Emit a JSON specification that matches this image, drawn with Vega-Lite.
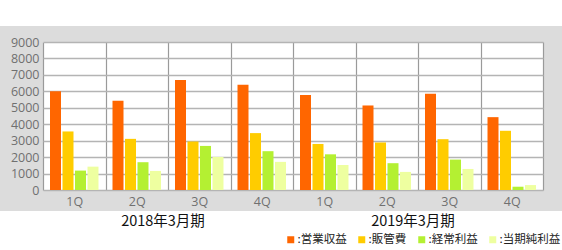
{
  "$schema": "https://vega.github.io/schema/vega-lite/v6.json",
  "background": "#dcdcdc",
  "padding": 0,
  "config": {"view": {"stroke": null}, "font": "Open Sans"},
  "datasets": {
    "bars": [
      {"k": "2018-1Q", "s": "営業収益", "v": 6000},
      {"k": "2018-1Q", "s": "販管費", "v": 3560},
      {"k": "2018-1Q", "s": "経常利益", "v": 1180},
      {"k": "2018-1Q", "s": "当期純利益", "v": 1420},
      {"k": "2018-2Q", "s": "営業収益", "v": 5430},
      {"k": "2018-2Q", "s": "販管費", "v": 3110},
      {"k": "2018-2Q", "s": "経常利益", "v": 1690},
      {"k": "2018-2Q", "s": "当期純利益", "v": 1160},
      {"k": "2018-3Q", "s": "営業収益", "v": 6690},
      {"k": "2018-3Q", "s": "販管費", "v": 2950},
      {"k": "2018-3Q", "s": "経常利益", "v": 2680},
      {"k": "2018-3Q", "s": "当期純利益", "v": 2010},
      {"k": "2018-4Q", "s": "営業収益", "v": 6400},
      {"k": "2018-4Q", "s": "販管費", "v": 3460},
      {"k": "2018-4Q", "s": "経常利益", "v": 2360},
      {"k": "2018-4Q", "s": "当期純利益", "v": 1710},
      {"k": "2019-1Q", "s": "営業収益", "v": 5770},
      {"k": "2019-1Q", "s": "販管費", "v": 2800},
      {"k": "2019-1Q", "s": "経常利益", "v": 2170},
      {"k": "2019-1Q", "s": "当期純利益", "v": 1520},
      {"k": "2019-2Q", "s": "営業収益", "v": 5140},
      {"k": "2019-2Q", "s": "販管費", "v": 2890},
      {"k": "2019-2Q", "s": "経常利益", "v": 1630},
      {"k": "2019-2Q", "s": "当期純利益", "v": 1100},
      {"k": "2019-3Q", "s": "営業収益", "v": 5850},
      {"k": "2019-3Q", "s": "販管費", "v": 3090},
      {"k": "2019-3Q", "s": "経常利益", "v": 1850},
      {"k": "2019-3Q", "s": "当期純利益", "v": 1280},
      {"k": "2019-4Q", "s": "営業収益", "v": 4430},
      {"k": "2019-4Q", "s": "販管費", "v": 3600},
      {"k": "2019-4Q", "s": "経常利益", "v": 200},
      {"k": "2019-4Q", "s": "当期純利益", "v": 300}
    ],
    "years": [{"p": "2018年3月期"}, {"p": "2019年3月期"}]
  },
  "spacing": 0,
  "vconcat": [
    {
      "spacing": 16,
      "bounds": "flush",
      "vconcat": [
        {
          "width": 562,
          "height": 26,
          "data": {"values": [{"t": ""}]},
          "mark": {"type": "text"},
          "encoding": {"text": {"field": "t"}},
          "view": {"fill": "white", "stroke": null}
        },
        {
          "spacing": 0,
          "bounds": "flush",
          "hconcat": [
            {
              "width": 43,
              "height": 148,
              "data": {"values": [{"t": ""}]},
              "mark": {"type": "text"},
              "encoding": {"text": {"field": "t"}},
              "view": {"fill": null, "stroke": null}
            },
            {
              "width": 500,
              "height": 148,
              "data": {"name": "bars"},
              "mark": {"type": "bar"},
              "view": {"fill": "white", "stroke": null},
              "encoding": {
                "x": {
                  "field": "k",
                  "type": "nominal",
                  "scale": {"paddingInner": 0, "paddingOuter": 0},
                  "axis": {
                    "title": null,
                    "labelExpr": "slice(datum.label, -2)",
                    "labelAngle": 0,
                    "ticks": false,
                    "domain": false,
                    "grid": true,
                    "tickBand": "extent",
                    "gridColor": "#9a9a9a",
                    "gridWidth": 1.2,
                    "labelPadding": 5,
                    "labelFontSize": 12.5,
                    "labelColor": "#707070",
                    "minExtent": 21,
                    "maxExtent": 21
                  }
                },
                "y": {
                  "field": "v",
                  "type": "quantitative",
                  "scale": {"domain": [0, 9000], "nice": false},
                  "axis": {
                    "title": null,
                    "format": "d",
                    "values": [0, 1000, 2000, 3000, 4000, 5000, 6000, 7000, 8000, 9000],
                    "ticks": false,
                    "domain": false,
                    "gridColor": "#b4b4b4",
                    "gridWidth": 1.5,
                    "labelPadding": 4,
                    "labelFontSize": 12.5,
                    "labelColor": "#707070"
                  }
                },
                "xOffset": {
                  "field": "s",
                  "type": "nominal",
                  "sort": ["営業収益", "販管費", "経常利益", "当期純利益"],
                  "scale": {"paddingInner": 0.12, "paddingOuter": 0.56}
                },
                "color": {
                  "field": "s",
                  "type": "nominal",
                  "scale": {
                    "domain": ["営業収益", "販管費", "経常利益", "当期純利益"],
                    "range": ["#ff6600", "#ffcc00", "#b4f032", "#eeffa0"]
                  },
                  "legend": {
                    "title": null,
                    "orient": "none",
                    "legendX": 285,
                    "legendY": 234,
                    "direction": "horizontal",
                    "gridAlign": "none",
                    "symbolType": "square",
                    "symbolSize": 49,
                    "symbolStrokeWidth": 0,
                    "labelOffset": 1,
                    "columnPadding": 9,
                    "padding": 0,
                    "labelFont": "Noto Sans CJK JP",
                    "labelFontSize": 11.5,
                    "labelColor": "#222222",
                    "labelExpr": "':' + datum.label",
                    "zindex": 1
                  }
                }
              }
            }
          ]
        }
      ]
    },
    {
      "spacing": 0,
      "bounds": "flush",
      "vconcat": [
        {
          "width": 562,
          "height": 22,
          "data": {"name": "years"},
          "mark": {"type": "text", "font": "Noto Sans CJK JP", "fontSize": 14.5, "color": "#111111"},
          "view": {"fill": "white", "stroke": null},
          "encoding": {
            "x": {
              "field": "p",
              "type": "nominal",
              "scale": {"type": "band", "paddingInner": 0, "paddingOuter": 0.124, "align": 0.613},
              "axis": null
            },
            "text": {"field": "p"}
          }
        },
        {
          "width": 562,
          "height": 17,
          "data": {"values": [{"t": ""}]},
          "mark": {"type": "text"},
          "encoding": {"text": {"field": "t"}},
          "view": {"fill": "white", "stroke": null}
        }
      ]
    }
  ]
}
